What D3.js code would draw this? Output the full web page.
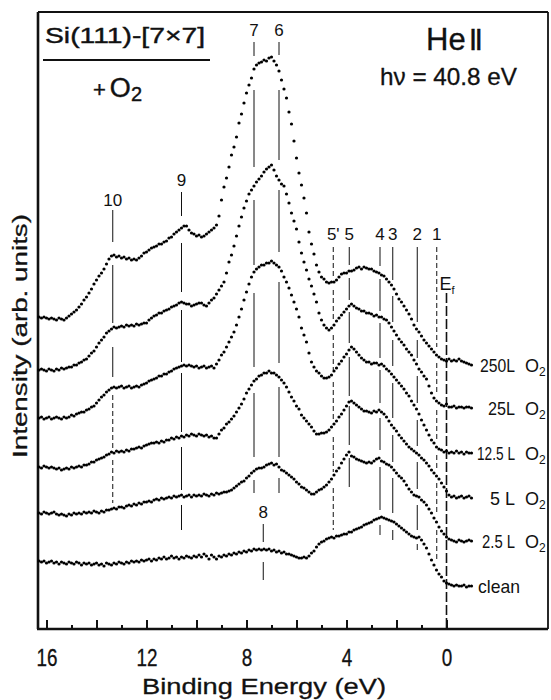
<!DOCTYPE html>
<html>
<head>
<meta charset="utf-8">
<script src="https://cdn.jsdelivr.net/npm/d3@7"></script>
<style>
  body { margin: 0; background: #fff; }
  svg { display: block; }
  text { font-family: "Liberation Sans", Arial, sans-serif; fill: #111; }
</style>
</head>
<body>
<svg id="chart" width="551" height="700"></svg>
<script>
// Binding-energy sampling grid (eV), highest energy first
const energyStart = 16.3;
const energyStep = 0.1;
const pointCount = 174;
const energies = d3.range(pointCount).map(i => +(energyStart - i * energyStep).toFixed(2));

// Spectra (arbitrary intensity units, already offset for stacking)
const o2_250 = [
  312,311,312,311,310,311,310,309,311,310,
  309,311,313,315,317,319,322,325,329,332,
  336,340,345,349,353,356,360,365,370,373,
  374,372,373,371,372,370,371,369,370,369,
  371,373,376,377,379,381,382,383,385,385,
  387,388,391,392,395,397,399,401,403,403,
  399,396,395,393,394,392,393,395,397,399,
  401,404,413,429,442,451,462,474,482,492,
  506,515,526,536,544,551,560,564,566,567,
  569,568,571,572,568,564,558,549,540,531,
  517,505,488,471,456,444,431,416,397,385,
  375,364,357,352,350,347,346,347,347,349,
  352,355,356,356,358,358,359,361,362,360,
  362,361,360,360,358,357,356,354,353,350,
  347,344,340,335,330,327,323,319,315,310,
  304,300,297,293,289,286,283,280,277,274,
  272,270,269,268,270,268,269,268,270,268,
  267,266,265,264
];
const o2_25 = [
  259,260,259,258,260,259,258,260,259,261,
  260,261,262,262,264,264,266,267,269,270,
  273,276,278,282,286,289,292,296,298,300,
  302,301,302,303,302,304,303,304,303,305,
  304,305,306,306,309,311,313,314,316,316,
  318,319,320,322,323,324,326,327,326,325,
  325,323,324,325,326,326,324,323,326,329,
  331,335,339,343,347,356,367,374,383,393,
  403,412,421,428,435,439,443,447,450,453,
  457,460,462,464,459,453,449,445,443,435,
  426,416,408,400,387,376,367,359,350,343,
  335,327,316,309,304,301,299,301,304,308,
  311,314,317,320,323,325,323,321,320,318,
  318,316,316,315,313,314,312,312,310,309,
  306,302,298,294,290,287,284,280,277,274,
  269,265,260,257,253,250,243,236,231,228,
  226,224,223,225,222,222,223,221,222,222,
  221,222,222,221
];
const o2_12_5 = [
  211,212,210,211,212,210,211,212,211,210,
  212,211,212,214,213,215,216,217,217,219,
  220,222,223,226,229,232,234,237,239,241,
  242,241,242,243,241,242,243,241,242,243,
  242,244,245,246,248,249,250,251,253,253,
  255,255,257,258,260,261,262,263,264,263,
  264,263,262,263,261,262,263,261,262,263,
  261,265,269,274,277,282,287,292,297,304,
  312,320,329,337,345,352,357,360,362,364,
  364,366,366,368,366,364,362,358,352,347,
  341,334,327,320,312,301,294,287,276,267,
  262,258,256,253,251,251,252,254,258,261,
  265,268,272,275,279,282,280,277,274,271,
  269,267,267,265,266,266,264,265,263,260,
  258,255,252,249,246,243,240,236,233,228,
  224,220,215,209,204,199,194,189,186,182,
  180,179,177,178,176,177,176,178,176,177,
  175,177,176,176
];
const o2_5 = [
  162,161,163,162,161,162,161,160,161,159,
  160,161,160,162,161,162,163,162,164,164,
  165,167,167,169,170,171,172,174,175,177,
  176,178,177,178,177,179,178,180,180,181,
  182,181,183,184,185,186,186,187,186,188,
  187,189,189,191,190,192,191,193,192,194,
  193,195,194,193,195,194,193,194,192,193,
  191,191,195,199,201,205,207,210,213,217,
  221,225,230,236,240,244,248,250,253,254,
  256,256,258,256,256,254,252,249,246,242,
  237,232,228,223,220,214,211,208,205,202,
  198,195,195,196,196,197,199,202,205,208,
  212,215,219,223,227,228,226,224,222,220,
  218,218,217,216,218,217,219,217,215,212,
  208,204,201,198,194,191,188,185,182,180,
  178,176,174,171,169,166,163,159,156,153,
  150,146,142,138,134,132,133,131,132,133,
  131,132,133,131
];
const o2_2_5 = [
  116,115,117,116,115,116,117,115,114,115,
  114,113,115,114,116,115,116,115,117,116,
  117,116,118,117,116,118,117,119,119,120,
  121,120,122,122,121,123,124,123,125,124,
  126,125,127,127,128,127,129,130,129,131,
  130,131,132,131,133,132,133,134,132,133,
  134,132,134,133,134,133,135,134,133,135,
  134,136,135,136,137,137,138,139,141,143,
  145,147,148,151,153,156,158,160,161,161,
  162,164,165,166,164,165,162,159,158,156,
  154,152,150,147,145,142,141,139,137,135,
  135,137,139,140,142,144,147,150,154,158,
  161,166,170,174,177,173,172,170,169,168,
  167,166,167,166,168,170,171,168,167,165,
  164,162,159,156,153,151,148,144,140,137,
  134,133,132,129,127,124,120,116,111,107,
  102,98,95,92,90,89,88,87,89,88,
  87,88,89,88
];
const clean = [
  68,67,68,66,67,68,66,67,65,67,
  66,65,67,66,65,67,66,64,66,65,
  66,64,65,66,64,65,63,66,65,64,
  66,65,67,66,65,67,66,68,67,68,
  67,69,68,69,70,68,70,69,71,70,
  72,70,71,73,71,72,70,72,71,73,
  72,71,73,72,74,72,75,73,70,74,
  72,70,73,72,74,73,75,74,76,75,
  77,76,78,77,79,78,80,79,80,79,
  80,79,80,78,79,77,78,76,77,75,
  75,74,73,72,71,71,72,71,73,76,
  78,82,85,87,88,90,91,92,91,93,
  93,94,95,95,97,97,99,100,101,102,
  104,105,106,107,109,110,111,112,111,110,
  109,108,107,105,103,101,99,97,95,93,
  92,91,92,89,85,81,75,69,64,59,
  55,52,48,46,45,44,43,44,43,43,
  44,42,43,43
];

const seriesValues = [o2_250, o2_25, o2_12_5, o2_5, o2_2_5, clean];
const seriesDose = ["250L", "25L", "12.5 L", "5 L", "2.5 L", "clean"];
const seriesHasO2 = [true, true, true, true, true, false];

// Peak markers: label and binding energy (eV)
const markerLabels = ["10", "9", "7", "6", "8", "5'", "5", "4", "3", "2", "1"];
const markerEnergies = [13.35, 10.6, 7.7, 6.7, 7.33, 4.53, 3.89, 2.66, 2.15, 1.17, 0.39];
const fermiEnergy = 0;

// Axis ticks
const tickValues = d3.range(0, 17, 1);
const labelledTicks = [16, 12, 8, 4, 0];

// ---- layout ----
const svg = d3.select("#chart");
const frame = { left: 38, right: 548, top: 12, bottom: 629 };

const x = d3.scaleLinear().domain([16, 0]).range([46.5, 446.5]);
const y = d3.scaleLinear().domain([0, 617]).range([629, 12]);

// marker label heights and line pieces, in intensity units [top, bottom, dashed]
const markerLabelLevel = [423, 443, 593, 593, 111, 389, 389, 389, 389, 389, 389];
const markerPieces = [
  [[419,387,0],[364,306,0],[282,252,0],[234,179,1],[169,126,1]],
  [[437,413,0],[386,337,0],[319,267,0],[256,197,0],[182,139,0],[124,99,0]],
  [[587,573,0],[539,462,0],[429,364,0],[336,262,0],[236,172,0],[149,136,0]],
  [[587,574,0],[539,469,0],[439,377,0],[347,266,0],[242,172,0],[151,136,0]],
  [[105,87,0],[67,49,0]],
  [[382,351,1],[339,307,1],[294,259,1],[247,207,1],[192,157,1],[141,99,1]],
  [[382,364,0],[351,329,0],[317,286,0],[272,233,0],[223,184,0],[171,142,0]],
  [[382,363,0],[350,318,0],[306,271,0],[259,226,0],[211,179,0],[162,119,0],[104,94,0]],
  [[382,349,0],[333,307,0],[289,263,0],[246,211,0],[194,167,0],[151,116,0],[99,89,0]],
  [[382,307,0],[289,271,0],[253,226,0],[209,183,0],[167,140,0],[124,99,0],[85,79,0]],
  [[382,282,1],[266,236,1],[219,190,1],[174,161,1],[146,115,1],[99,67,1]]
];
const fermiLabelLevel = 339;
const fermiLineTop = 336;
// target widths of the exposure labels
const doseLabelWidth = [35, 27, 38, 26, 33, 42];

// frame
const frameG = svg.append("g").attr("stroke", "#111").attr("fill", "none");
frameG.append("line").attr("x1", frame.left).attr("x2", frame.left)
  .attr("y1", frame.top).attr("y2", frame.bottom).attr("stroke-width", 2.6);
frameG.append("line").attr("x1", frame.left).attr("x2", frame.right)
  .attr("y1", frame.top).attr("y2", frame.top).attr("stroke-width", 1.8);
frameG.append("line").attr("x1", frame.right).attr("x2", frame.right)
  .attr("y1", frame.top).attr("y2", frame.bottom).attr("stroke-width", 1.8);
frameG.append("line").attr("x1", frame.left - 1).attr("x2", frame.right)
  .attr("y1", frame.bottom).attr("y2", frame.bottom).attr("stroke-width", 2.6);

// bottom axis with inward ticks
const axis = d3.axisBottom(x)
  .tickValues(tickValues)
  .tickSizeInner(-9)
  .tickSizeOuter(0)
  .tickPadding(21)
  .tickFormat(d => labelledTicks.includes(d) ? String(d) : "");
const axisG = svg.append("g").attr("transform", `translate(0,${frame.bottom})`).call(axis);
axisG.select(".domain").remove();
axisG.selectAll(".tick line").attr("stroke", "#111").attr("stroke-width", 2)
  .attr("y2", d => d % 2 === 0 ? -9 : -4);
axisG.selectAll(".tick text")
  .style("font-family", '"Liberation Sans", Arial, sans-serif')
  .attr("font-size", 23)
  .attr("fill", "#111")
  .attr("stroke", "#111").attr("stroke-width", 0.3)
  .each(function(d) {
    if (labelledTicks.includes(d)) {
      d3.select(this).attr("textLength", String(d).length * 10.5).attr("lengthAdjust", "spacingAndGlyphs");
    }
  });

// axis titles
svg.append("text")
  .attr("x", 264).attr("y", 694)
  .attr("text-anchor", "middle")
  .attr("font-size", 22)
  .attr("stroke", "#111").attr("stroke-width", 0.3)
  .attr("textLength", 244).attr("lengthAdjust", "spacingAndGlyphs")
  .text("Binding  Energy (eV)");

svg.append("text")
  .attr("transform", "translate(27,336) rotate(-90)")
  .attr("text-anchor", "middle")
  .attr("font-size", 20)
  .attr("stroke", "#111").attr("stroke-width", 0.3)
  .attr("textLength", 244).attr("lengthAdjust", "spacingAndGlyphs")
  .text("Intensity (arb. units)");

// marker lines
const markG = svg.append("g").attr("stroke", "#111").attr("stroke-width", 1).attr("fill", "none");
markerEnergies.forEach((e, k) => {
  markerPieces[k].forEach(p => {
    markG.append("line")
      .attr("x1", x(e)).attr("x2", x(e))
      .attr("y1", y(p[0])).attr("y2", y(p[1]))
      .attr("stroke-dasharray", p[2] ? "5,3" : null);
  });
  svg.append("text")
    .attr("x", x(e)).attr("y", y(markerLabelLevel[k]))
    .attr("text-anchor", "middle")
    .attr("font-size", 17)
    .text(markerLabels[k]);
});

// Fermi level
markG.append("line")
  .attr("x1", x(fermiEnergy)).attr("x2", x(fermiEnergy))
  .attr("y1", y(fermiLineTop)).attr("y2", y(0))
  .attr("stroke-width", 1.6)
  .attr("stroke-dasharray", "10,3");
const ef = svg.append("text")
  .attr("x", x(fermiEnergy) - 7).attr("y", y(fermiLabelLevel))
  .attr("font-size", 18);
ef.append("tspan").text("E");
ef.append("tspan").attr("font-size", 11).attr("dy", 4).text("f");

// spectra as dots
const dotsG = svg.append("g").attr("fill", "#000");
seriesValues.forEach(vals => {
  dotsG.append("g").selectAll("circle")
    .data(vals.map((v, i) => [energies[i], v]))
    .join("circle")
    .attr("cx", d => x(d[0]))
    .attr("cy", d => y(d[1]))
    .attr("r", 1.6);
});

// exposure labels at the right end of each spectrum, squeezed horizontally to fit
function squeezedLabel(xPos, yPos, anchor, str, width) {
  const g = svg.append("g");
  const t = g.append("text")
    .attr("font-size", 18)
    .attr("text-anchor", anchor)
    .text(str);
  const natural = t.node().getComputedTextLength();
  const s = Math.min(1, width / natural);
  g.attr("transform", `translate(${xPos},${yPos}) scale(${s},1)`);
}
seriesValues.forEach((vals, k) => {
  const yy = y(vals[vals.length - 1]) + 6.5;
  if (seriesHasO2[k]) {
    squeezedLabel(515, yy, "end", seriesDose[k], doseLabelWidth[k]);
    const t = svg.append("text").attr("x", 525).attr("y", yy).attr("font-size", 18);
    t.append("tspan").text("O");
    t.append("tspan").attr("font-size", 12).attr("dy", 4).text("2");
  } else {
    squeezedLabel(478, yy, "start", seriesDose[k], doseLabelWidth[k]);
  }
});

// sample title
svg.append("text")
  .attr("x", 45).attr("y", 43)
  .attr("font-size", 22)
  .attr("stroke", "#111").attr("stroke-width", 0.4)
  .attr("textLength", 160).attr("lengthAdjust", "spacingAndGlyphs")
  .text("Si(111)-[7×7]");
svg.append("line")
  .attr("x1", 43).attr("x2", 210).attr("y1", 60).attr("y2", 60)
  .attr("stroke", "#111").attr("stroke-width", 2.2);
const plus = svg.append("text").attr("x", 93).attr("y", 97).attr("font-size", 27)
  .attr("stroke", "#111").attr("stroke-width", 0.4);
plus.append("tspan").attr("font-size", 22).text("+");
plus.append("tspan").attr("dx", 4).text("O");
plus.append("tspan").attr("font-size", 20).attr("dy", 4).text("2");

// source label
const he = svg.append("text").attr("x", 426).attr("y", 50).attr("font-size", 31)
  .attr("stroke", "#111").attr("stroke-width", 0.3);
he.append("tspan").text("He");
he.append("tspan").attr("dx", 3).style("font-family", '"DejaVu Sans", sans-serif').attr("font-size", 29).text("Ⅱ");
svg.append("text")
  .attr("x", 380).attr("y", 85)
  .attr("font-size", 24)
  .attr("stroke", "#111").attr("stroke-width", 0.3)
  .attr("textLength", 137).attr("lengthAdjust", "spacingAndGlyphs")
  .text("hν = 40.8 eV");
</script>
</body>
</html>
